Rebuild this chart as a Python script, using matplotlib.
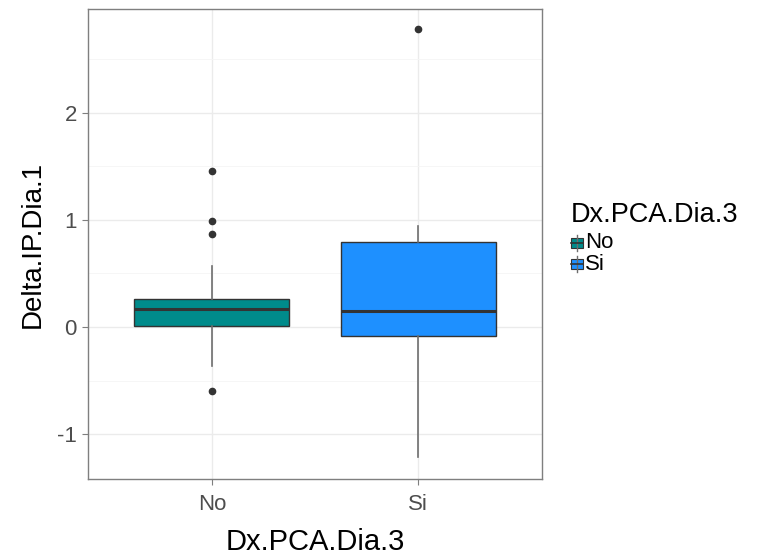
import matplotlib
matplotlib.use("Agg")
import matplotlib.pyplot as plt
from matplotlib.patches import Rectangle
from matplotlib.lines import Line2D

plt.rcParams['font.family'] = ['Liberation Sans', 'DejaVu Sans']
plt.rcParams['axes.unicode_minus'] = False

# Data
groups = ["No", "Si"]
colors = ["#008B8B", "#1E90FF"]
q1 = [0.01, -0.08]
medians = [0.17, 0.15]
q3 = [0.26, 0.79]
whisker_low = [-0.36, -1.21]
whisker_high = [0.57, 0.94]
outliers = [[1.46, 0.99, 0.87, -0.60], [2.78]]

y_ticks = [-1, 0, 1, 2]
y_minor = [-0.5, 0.5, 1.5, 2.5]

fig = plt.figure(figsize=(7.6, 5.57), dpi=100)
ax = fig.add_axes([88 / 760, 1 - 479 / 557, (542 - 88) / 760, (479 - 9) / 557])

stats = []
for i, g in enumerate(groups):
    stats.append({
        "label": g,
        "q1": q1[i], "med": medians[i], "q3": q3[i],
        "whislo": whisker_low[i], "whishi": whisker_high[i],
        "fliers": outliers[i],
    })

bp = ax.bxp(stats, positions=[1, 2], widths=0.75, patch_artist=True,
            showcaps=False,
            boxprops=dict(edgecolor="#333333", linewidth=1.0),
            whiskerprops=dict(color="#6E6E6E", linewidth=1.2),
            medianprops=dict(color="#333333", linewidth=2.2),
            flierprops=dict(marker="o", markerfacecolor="#333333",
                            markeredgecolor="#333333", markersize=4.5))
for patch, c in zip(bp["boxes"], colors):
    patch.set_facecolor(c)

ax.set_xlim(0.4, 2.6)
ax.set_ylim(-1.42, 2.97)
ax.set_yticks(y_ticks)
ax.set_yticks(y_minor, minor=True)
ax.set_xticks([1, 2])
ax.set_xticklabels(groups)

ax.grid(which="major", color="#EBEBEB", linewidth=1.0)
ax.grid(which="minor", axis="y", color="#F5F5F5", linewidth=0.6)
ax.set_axisbelow(True)
for s in ax.spines.values():
    s.set_color("#7F7F7F")
    s.set_linewidth(1.0)

ax.tick_params(axis="both", which="major", length=4, color="#7F7F7F",
               labelcolor="#4D4D4D", labelsize=16, pad=4)
ax.tick_params(axis="x", which="major", pad=7)
ax.tick_params(axis="both", which="minor", length=0)

ax.set_xlabel("Dx.PCA.Dia.3", fontsize=21, color="black", labelpad=9)
ax.set_ylabel("Delta.IP.Dia.1", fontsize=20, color="black", labelpad=8)

# Legend drawn in its own axes
lax = fig.add_axes([565 / 760, 1 - 295 / 557, 195 / 760, 100 / 557])
lax.set_xlim(0, 195)
lax.set_ylim(100, 0)
lax.axis("off")
lax.text(6, 20, "Dx.PCA.Dia.3", fontsize=19.5, va="center", ha="left")
for i, (g, c) in enumerate(zip(groups, colors)):
    yc = 48 + i * 21
    lax.add_line(Line2D([12, 12], [yc - 8, yc + 8], color="#6E6E6E", linewidth=1.0))
    lax.add_patch(Rectangle((6, yc - 5), 12, 10, facecolor=c, edgecolor="#333333", linewidth=0.8))
    lax.add_line(Line2D([6, 18], [yc, yc], color="#333333", linewidth=1.2))
    lax.text(20, yc, g, fontsize=16, va="center", ha="left")

fig.savefig("out.png", dpi=100)
